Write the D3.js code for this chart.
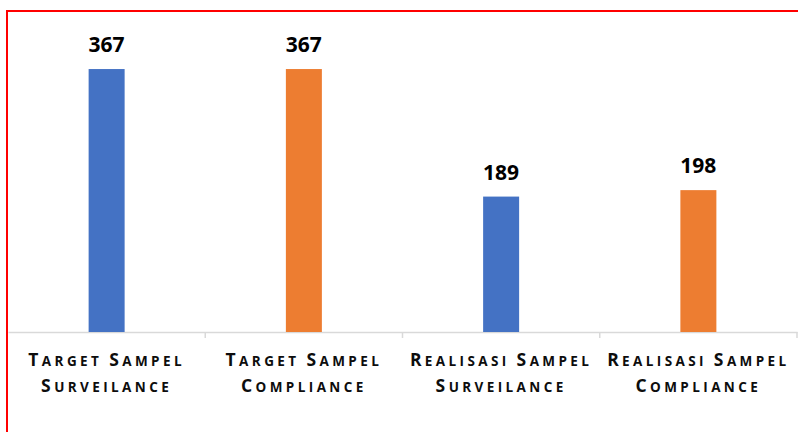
<!DOCTYPE html>
<html>
<head>
<meta charset="utf-8">
<script src="https://cdn.jsdelivr.net/npm/d3@7"></script>
<style>
  body { margin: 0; background: #fff; }
  svg { display: block; }
</style>
</head>
<body>
<svg id="chart" width="798" height="432"></svg>
<script>
// data
var categories = ["Target Sampel Surveilance", "Target Sampel Compliance", "Realisasi Sampel Surveilance", "Realisasi Sampel Compliance"];
var labelLines = [["Target Sampel", "Surveilance"], ["Target Sampel", "Compliance"], ["Realisasi Sampel", "Surveilance"], ["Realisasi Sampel", "Compliance"]];
var values = [367, 367, 189, 198];
var barColors = ["#4472C4", "#ED7D31", "#4472C4", "#ED7D31"];

var svg = d3.select("#chart");
var baseY = 332;

// red frame round the chart (open at right and bottom)
svg.append("rect")
    .attr("x", 7).attr("y", 11)
    .attr("width", 900).attr("height", 500)
    .attr("fill", "none")
    .attr("stroke", "#ff0000")
    .attr("stroke-width", 2);

var x = d3.scaleBand()
    .domain(categories)
    .range([8, 797])
    .paddingInner(0);

var y = d3.scaleLinear()
    .domain([0, 400])
    .range([baseY, baseY - 286.6]);

var barW = 36;

// axis line
var axis = d3.axisBottom(x).tickSize(0).tickFormat("");
var gx = svg.append("g")
    .attr("transform", "translate(0," + baseY + ")")
    .call(axis);
gx.select(".domain").attr("stroke", "#d9d9d9").attr("stroke-width", 1.5);

// tick marks at band boundaries
var bounds = categories.map(function(c){ return x(c); }).concat([x.range()[1]]);
gx.selectAll(".bound")
    .data(bounds.slice(1))
    .enter().append("line")
    .attr("class", "bound")
    .attr("x1", function(d){ return d; })
    .attr("x2", function(d){ return d; })
    .attr("y1", 0).attr("y2", 6)
    .attr("stroke", "#d9d9d9")
    .attr("stroke-width", 1.5);

// bars
svg.append("g").selectAll("rect")
    .data(values)
    .enter().append("rect")
    .attr("x", function(d, i){ return x(categories[i]) + x.bandwidth()/2 - barW/2; })
    .attr("y", function(d){ return y(d); })
    .attr("width", barW)
    .attr("height", function(d){ return baseY - y(d); })
    .attr("fill", function(d, i){ return barColors[i]; });

// value labels
svg.append("g").selectAll("text")
    .data(values)
    .enter().append("text")
    .attr("x", function(d, i){ return x(categories[i]) + x.bandwidth()/2; })
    .attr("y", function(d){ return y(d) - 17; })
    .attr("text-anchor", "middle")
    .attr("font-family", "Open Sans, sans-serif")
    .attr("font-weight", "bold")
    .attr("font-size", "21px")
    .attr("fill", "#000")
    .text(function(d){ return d; });

// category labels, drawn as small caps
function smallCaps(textSel, line) {
    line.split(" ").forEach(function(word, wi){
        if (wi > 0) textSel.append("tspan").attr("font-size", "13.5px").text(" ");
        textSel.append("tspan").attr("font-size", "17.5px").text(word.charAt(0).toUpperCase());
        textSel.append("tspan").attr("font-size", "13.5px").text(word.slice(1).toUpperCase());
    });
}

var lab = svg.append("g").selectAll("g")
    .data(labelLines)
    .enter().append("g");
lab.each(function(lines, i){
    var g = d3.select(this);
    lines.forEach(function(line, li){
        var t = g.append("text")
            .attr("x", x(categories[i]) + x.bandwidth()/2)
            .attr("y", 366 + li * 26)
            .attr("text-anchor", "middle")
            .attr("font-family", "Open Sans, sans-serif")
            .attr("font-weight", "bold")
            .attr("letter-spacing", "3.4px")
            .attr("fill", "#0d0d0d");
        smallCaps(t, line);
    });
});
</script>
</body>
</html>
